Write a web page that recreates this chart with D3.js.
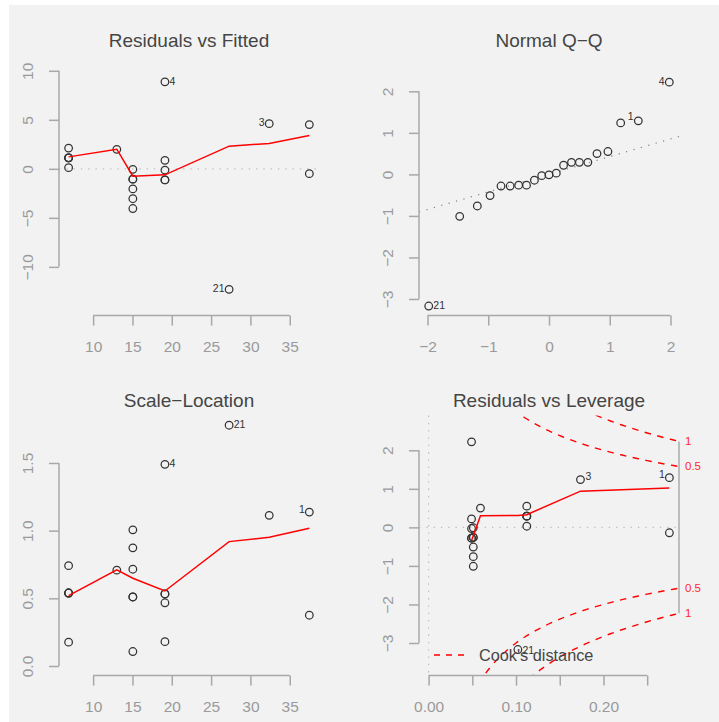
<!DOCTYPE html>
<html><head><meta charset="utf-8">
<script src="https://cdn.jsdelivr.net/npm/d3@7"></script>
<style>
body{margin:0;background:#fff}
text{font-family:"Liberation Sans",Arial,Helvetica,sans-serif}
</style>
</head><body>
<svg id="c" width="719" height="722"></svg>
<script>
// ---------------- data (lm(stack.loss ~ Air.Flow) diagnostics) -------------
const obsIds = [1,2,3,4,5,6,7,8,9,10,11,12,13,14,15,16,17,18,19,20,21];
const fitted = [37.49,37.49,32.39,19.13,19.13,19.13,19.13,19.13,15.05,15.05,15.05,15.05,15.05,15.05,6.88,6.88,6.88,6.88,6.88,13.01,27.29];
const residuals = [4.51,-0.49,4.61,8.87,-1.13,-1.13,-0.13,0.87,-0.05,-1.05,-1.05,-2.05,-4.05,-3.05,1.12,0.12,1.12,1.12,2.12,1.99,-12.29];
const stdResiduals = [1.29,-0.14,1.24,2.22,-0.28,-0.28,-0.03,0.22,-0.01,-0.26,-0.26,-0.51,-1.01,-0.76,0.29,0.03,0.29,0.29,0.55,0.50,-3.17];
const sqrtAbsStdRes = [1.137,0.375,1.113,1.490,0.532,0.532,0.180,0.467,0.107,0.510,0.510,0.715,1.006,0.873,0.539,0.176,0.539,0.539,0.741,0.708,1.779];
const leverage = [0.2754,0.2754,0.1737,0.0491,0.0491,0.0491,0.0491,0.0491,0.0511,0.0511,0.0511,0.0511,0.0511,0.0511,0.1123,0.1123,0.1123,0.1123,0.1123,0.0593,0.1021];

const qqTheoretical = [-1.98,-1.47,-1.18,-0.97,-0.79,-0.64,-0.50,-0.37,-0.24,-0.12,0,0.12,0.24,0.37,0.50,0.64,0.79,0.97,1.18,1.47,1.98];
const qqSample = [-3.17,-1.01,-0.76,-0.51,-0.28,-0.28,-0.26,-0.26,-0.14,-0.03,-0.01,0.03,0.22,0.29,0.29,0.29,0.50,0.55,1.24,1.29,2.22];
const qqIds = [21,13,14,12,5,6,10,11,2,7,9,16,8,15,17,18,20,19,3,1,4];
const qqLineX = [-2.14, 2.14];
const qqLineY = [-0.905, 0.912];

// smoother (red) lines
const smoothFittedX = [6.88,13.01,15.05,19.13,27.29,32.39,37.49];
const smoothResidY = [1.22,2.0,-0.75,-0.61,2.31,2.59,3.4];
const smoothScaleY = [0.52,0.71,0.648,0.554,0.919,0.951,1.018];
const smoothLevX = [0.0491,0.0511,0.0593,0.1021,0.1123,0.1737,0.2754];
const smoothLevY = [-0.34,-0.22,0.30,0.31,0.33,0.94,1.02];

// Cook's distance contours
const cookH = [0.05,0.06,0.07,0.08,0.09,0.10,0.11,0.12,0.13,0.14,0.15,0.16,0.17,0.18,0.19,0.20,0.21,0.22,0.23,0.24,0.25,0.26,0.27,0.28,0.2864];
const cook05 = [4.359,3.958,3.645,3.391,3.180,3.000,2.844,2.708,2.587,2.478,2.380,2.291,2.210,2.134,2.065,2.000,1.940,1.883,1.830,1.780,1.732,1.687,1.644,1.604,1.578];
const cook1 = [6.164,5.598,5.155,4.796,4.497,4.243,4.022,3.830,3.659,3.505,3.366,3.240,3.125,3.018,2.920,2.828,2.744,2.663,2.588,2.517,2.449,2.386,2.325,2.268,2.232];
const cookLevels = ["0.5","1"];
const cookLabelY = [1.58, 2.23];

// axes / titles
const titles = ["Residuals vs Fitted","Normal Q\u2212Q","Scale\u2212Location","Residuals vs Leverage"];
const fittedTicks = [10,15,20,25,30,35];
const residTicks = [-10,-5,0,5,10];
const qqXTicks = [-2,-1,0,1,2];
const qqYTicks = [-3,-2,-1,0,1,2];
const scaleTicks = [0,0.5,1,1.5];
const levXTicks = [0,0.05,0.10,0.15,0.20,0.25];
const levXLabeled = [0,0.10,0.20];
const levYTicks = [-3,-2,-1,0,1,2];
const legendLabel = "Cook's distance";

// ---------------- drawing ----------------
const svg = d3.select("#c");
svg.append("rect").attr("x",9).attr("y",5).attr("width",710).attr("height",717).attr("fill","#f2f2f2");

const W = 260, H = 260;
const AXIS = "#a8a8a8", TICKTXT = "#9a9a9a", TITLE = "#454545", PT = "#333";
const minus = s => s.replace(/-/g,"\u2212");

function makePanel(x0, y0, xdom, ydom, title){
  const g = svg.append("g").attr("transform",`translate(${x0},${y0})`);
  const x = d3.scaleLinear().domain(xdom).range([0,W]);
  const y = d3.scaleLinear().domain(ydom).range([H,0]);
  g.append("text").attr("x",W/2).attr("y",-8.6).attr("text-anchor","middle")
    .attr("font-size",19).attr("fill",TITLE).text(title);
  return {g,x,y};
}

function xAxis(p, ticks, fmt, labeled){
  const ax = d3.axisBottom(p.x).tickValues(ticks).tickSize(10).tickPadding(15.5)
    .tickFormat(d => (labeled && !labeled.some(v=>Math.abs(v-d)<1e-9)) ? "" : minus(fmt(d)));
  const a = p.g.append("g").attr("transform",`translate(0,${H})`).call(ax);
  a.select(".domain").remove();
  a.selectAll(".tick line").attr("stroke",AXIS).attr("stroke-width",1.5);
  a.selectAll(".tick text").attr("fill",TICKTXT).attr("font-size",15.5).attr("font-family",null);
  a.append("line").attr("x1",p.x(ticks[0])).attr("x2",p.x(ticks[ticks.length-1]))
    .attr("stroke",AXIS).attr("stroke-width",1.5);
}
function yAxis(p, ticks, fmt){
  const ax = d3.axisLeft(p.y).tickValues(ticks).tickSize(10).tickFormat(d=>minus(fmt(d)));
  const a = p.g.append("g").call(ax);
  a.select(".domain").remove();
  a.selectAll(".tick line").attr("stroke",AXIS).attr("stroke-width",1.5);
  a.selectAll(".tick text").attr("fill",TICKTXT).attr("font-size",15.5).attr("font-family",null)
    .attr("x",null).attr("dy",null).attr("text-anchor","middle")
    .attr("transform","translate(-25.6,0) rotate(-90)");
  a.append("line").attr("y1",p.y(ticks[0])).attr("y2",p.y(ticks[ticks.length-1]))
    .attr("stroke",AXIS).attr("stroke-width",1.5);
}
function points(p, xs, ys){
  p.g.append("g").selectAll("circle").data(xs).join("circle")
    .attr("cx",(d)=>p.x(d)).attr("cy",(d,i)=>p.y(ys[i])).attr("r",3.8)
    .attr("fill","none").attr("stroke",PT).attr("stroke-width",1.25);
}
function smooth(p, xs, ys){
  const line = d3.line().x(d=>p.x(d[0])).y(d=>p.y(d[1]));
  p.g.append("path").datum(xs.map((v,i)=>[v,ys[i]])).attr("d",line)
    .attr("fill","none").attr("stroke","#ff0000").attr("stroke-width",1.5);
}
function label(p, xv, yv, txt, side, dx, dy){
  p.g.append("text").attr("x",p.x(xv)+(side==="r"?(dx||4.6):-(dx||4.6))).attr("y",p.y(yv)+(dy||2.8))
    .attr("text-anchor",side==="r"?"start":"end").attr("font-size",10.5).attr("fill","#333").text(txt);
}
function hline0(p, col, dash){
  p.g.append("line").attr("x1",0).attr("x2",W).attr("y1",p.y(0)).attr("y2",p.y(0))
    .attr("stroke",col).attr("stroke-width",1.2).attr("stroke-dasharray",dash);
}
const fmtInt = d3.format("d"), fmt1 = d3.format(".1f"), fmt2 = d3.format(".2f");

// Panel 1: Residuals vs Fitted
const p1 = makePanel(59, 55.6, [5.66,38.72], [-14.97,11.55], titles[0]);
hline0(p1,"#bdbdbd","1.3,6");
xAxis(p1, fittedTicks, fmtInt);
yAxis(p1, residTicks, fmtInt);
points(p1, fitted, residuals);
smooth(p1, smoothFittedX, smoothResidY);
[[3,"r"],[2,"l"],[20,"l"]].forEach(([i,s])=>label(p1, fitted[i], residuals[i], String(obsIds[i]), s));

// Panel 2: Normal Q-Q
const p2 = makePanel(419, 55.6, [-2.14,2.14], [-3.40,2.86], titles[1]);
p2.g.append("line").attr("x1",p2.x(qqLineX[0])).attr("x2",p2.x(qqLineX[1]))
  .attr("y1",p2.y(qqLineY[0])).attr("y2",p2.y(qqLineY[1]))
  .attr("stroke","#808080").attr("stroke-width",1.2).attr("stroke-dasharray","1.2,6.5");
xAxis(p2, qqXTicks, fmtInt);
yAxis(p2, qqYTicks, fmtInt);
points(p2, qqTheoretical, qqSample);
[[0,"r"],[19,"l"],[20,"l"]].forEach(([i,s])=>label(p2, qqTheoretical[i], qqSample[i], String(qqIds[i]), s, 4.6, i===19?-0.5:2.8));

// Panel 3: Scale-Location
const p3 = makePanel(59, 415.6, [5.66,38.72], [-0.071,1.85], titles[2]);
xAxis(p3, fittedTicks, fmtInt);
yAxis(p3, scaleTicks, fmt1);
points(p3, fitted, sqrtAbsStdRes);
smooth(p3, smoothFittedX, smoothScaleY);
[[20,"r"],[3,"r"],[0,"l"]].forEach(([i,s])=>label(p3, fitted[i], sqrtAbsStdRes[i], String(obsIds[i]), s, 4.6, i===0?0.5:2.8));

// Panel 4: Residuals vs Leverage
const p4 = makePanel(419, 415.6, [-0.011,0.2864], [-3.846,2.90], titles[3]);
svg.append("clipPath").attr("id","clip4").append("rect").attr("x",0).attr("y",0).attr("width",W).attr("height",H);
hline0(p4,"#bdbdbd","1.3,6");
p4.g.append("line").attr("x1",p4.x(0)).attr("x2",p4.x(0)).attr("y1",0).attr("y2",H)
  .attr("stroke","#bdbdbd").attr("stroke-width",1.2).attr("stroke-dasharray","1.3,6");
const cg = p4.g.append("g").attr("clip-path","url(#clip4)");
const cl = d3.line().x(d=>p4.x(d[0])).y(d=>p4.y(d[1])).curve(d3.curveMonotoneX);
[cook05, cook1].forEach(arr=>{
  [1,-1].forEach(sg=>{
    cg.append("path").datum(cookH.map((h,i)=>[h, sg*arr[i]])).attr("d",cl)
      .attr("fill","none").attr("stroke","#ff0000").attr("stroke-width",1.4).attr("stroke-dasharray","6.5,6.5");
  });
});
xAxis(p4, levXTicks, fmt2, levXLabeled);
yAxis(p4, levYTicks, fmtInt);
points(p4, leverage, stdResiduals);
smooth(p4, smoothLevX, smoothLevY);
label(p4, leverage[2], stdResiduals[2], "3", "r", 5, 0.5);
label(p4, leverage[0], stdResiduals[0], "1", "l", 4.6, 0.5);
label(p4, leverage[20], stdResiduals[20], "21", "r", 4.6, 4.5);
// right-hand Cook's axis
const xr = W;
p4.g.append("line").attr("x1",xr).attr("x2",xr).attr("y1",p4.y(cookLabelY[1])).attr("y2",p4.y(-cookLabelY[1]))
  .attr("stroke","#a0a0a0").attr("stroke-width",1.3);
cookLevels.forEach((lab,i)=>{
  [1,-1].forEach(sg=>{
    p4.g.append("text").attr("x",xr+6).attr("y",p4.y(sg*cookLabelY[i])+4)
      .attr("font-size",11.5).attr("fill","#ff2a2a").text(lab);
  });
});
// legend
p4.g.append("line").attr("x1",15).attr("x2",45).attr("y1",239.4).attr("y2",239.4)
  .attr("stroke","#ff0000").attr("stroke-width",1.4).attr("stroke-dasharray","6,6");
p4.g.append("text").attr("x",60).attr("y",245.2).attr("font-size",16.3).attr("fill","#454545").text(legendLabel);
</script>
</body></html>
